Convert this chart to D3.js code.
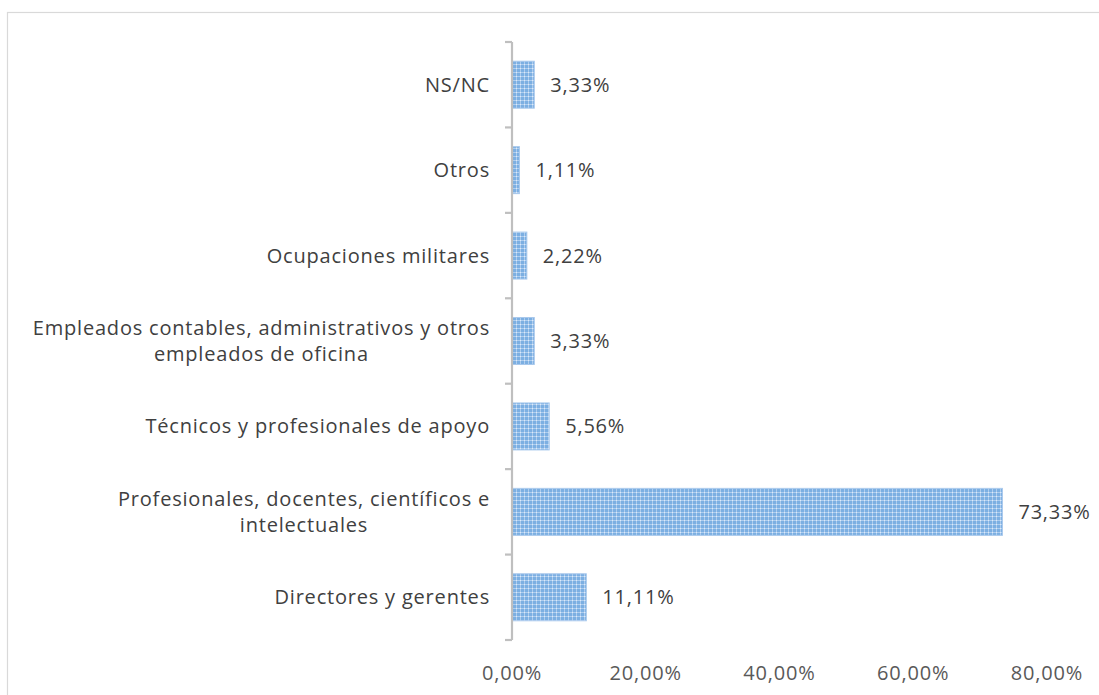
<!DOCTYPE html>
<html>
<head>
<meta charset="utf-8">
<script src="https://cdn.jsdelivr.net/npm/d3@7"></script>
<style>
  html, body { margin: 0; padding: 0; background: #ffffff; }
  svg { display: block; }
  text { font-family: "Open Sans", "Noto Sans", sans-serif; letter-spacing: 0.8px; }
</style>
</head>
<body>
<svg id="chart" width="1099" height="695"></svg>
<script>
// ---- data (top = first) ----
const categories = [
  ["NS/NC"],
  ["Otros"],
  ["Ocupaciones militares"],
  ["Empleados contables, administrativos y otros", "empleados de oficina"],
  ["Técnicos y profesionales de apoyo"],
  ["Profesionales, docentes, científicos e", "intelectuales"],
  ["Directores y gerentes"]
];
const values = [3.33, 1.11, 2.22, 3.33, 5.56, 73.33, 11.11];
const valueLabels = ["3,33%", "1,11%", "2,22%", "3,33%", "5,56%", "73,33%", "11,11%"];
const xTicks = [0, 20, 40, 60, 80];
const xTickLabels = ["0,00%", "20,00%", "40,00%", "60,00%", "80,00%"];

const FS = 20;
const svg = d3.select("#chart");

// outer chart border
svg.append("rect")
  .attr("x", 7.5).attr("y", 12.5)
  .attr("width", 1110).attr("height", 700)
  .attr("fill", "#ffffff")
  .attr("stroke", "#d9d9d9").attr("stroke-width", 1.2);

// pattern fill
const defs = svg.append("defs");
const pat = defs.append("pattern")
  .attr("id", "grid").attr("patternUnits", "userSpaceOnUse")
  .attr("width", 4).attr("height", 4);
pat.append("rect").attr("width", 4).attr("height", 4).attr("fill", "#7cafe2");
pat.append("rect").attr("x", 0).attr("y", 0).attr("width", 4).attr("height", 1).attr("fill", "#aecdee");
pat.append("rect").attr("x", 0).attr("y", 0).attr("width", 1).attr("height", 4).attr("fill", "#aecdee");
pat.append("rect").attr("x", 0).attr("y", 0).attr("width", 1).attr("height", 1).attr("fill", "#dceafa");

const x = d3.scaleLinear().domain([0, 80]).range([512, 1047]);
const y = d3.scaleBand().domain(d3.range(categories.length)).range([42, 640]).paddingInner(0.45).paddingOuter(0.225);
const yb = d3.scaleBand().domain(d3.range(categories.length)).range([42, 640]);

// bars
svg.append("g").selectAll("rect").data(values).join("rect")
  .attr("x", x(0))
  .attr("y", (d, i) => y(i))
  .attr("width", d => x(d) - x(0))
  .attr("height", y.bandwidth())
  .attr("fill", "url(#grid)")
  .attr("stroke", "#a8c8ec").attr("stroke-width", 1);

// value labels
svg.append("g").selectAll("text").data(values).join("text")
  .attr("x", d => x(d) + 16)
  .attr("y", (d, i) => y(i) + y.bandwidth() / 2)
  .attr("dy", "0.35em")
  .attr("font-size", FS)
  .attr("fill", "#404040")
  .text((d, i) => valueLabels[i]);

// y axis line + tick marks at band boundaries
const axisG = svg.append("g");
axisG.append("line")
  .attr("x1", x(0)).attr("x2", x(0))
  .attr("y1", yb.range()[0]).attr("y2", yb.range()[1])
  .attr("stroke", "#bfbfbf").attr("stroke-width", 2.2);
const bounds = d3.range(categories.length + 1).map(i => i < categories.length ? yb(i) : yb.range()[1]);
axisG.selectAll("line.tk").data(bounds).join("line")
  .attr("class", "tk")
  .attr("x1", x(0) - 7).attr("x2", x(0))
  .attr("y1", d => d).attr("y2", d => d)
  .attr("stroke", "#bfbfbf").attr("stroke-width", 2.2);

// category labels (right-aligned block, lines centered within block)
const catG = svg.append("g");
categories.forEach((lines, i) => {
  const cy = yb(i) + yb.bandwidth() / 2;
  const lh = 26;
  const g = catG.append("g");
  const texts = lines.map((l, k) => g.append("text")
    .attr("y", cy + (k - (lines.length - 1) / 2) * lh)
    .attr("dy", "0.35em")
    .attr("font-size", FS)
    .attr("fill", "#404040")
    .text(l));
  const widths = texts.map(t => t.node().getComputedTextLength());
  const maxW = d3.max(widths);
  const right = 490;
  const center = right - maxW / 2;
  texts.forEach(t => t.attr("x", center).attr("text-anchor", "middle"));
});

// x axis tick labels (no line)
svg.append("g").selectAll("text").data(xTicks).join("text")
  .attr("x", d => x(d))
  .attr("y", 673)
  .attr("dy", "0.35em")
  .attr("text-anchor", "middle")
  .attr("font-size", FS)
  .attr("fill", "#595959")
  .text((d, i) => xTickLabels[i]);
</script>
</body>
</html>
